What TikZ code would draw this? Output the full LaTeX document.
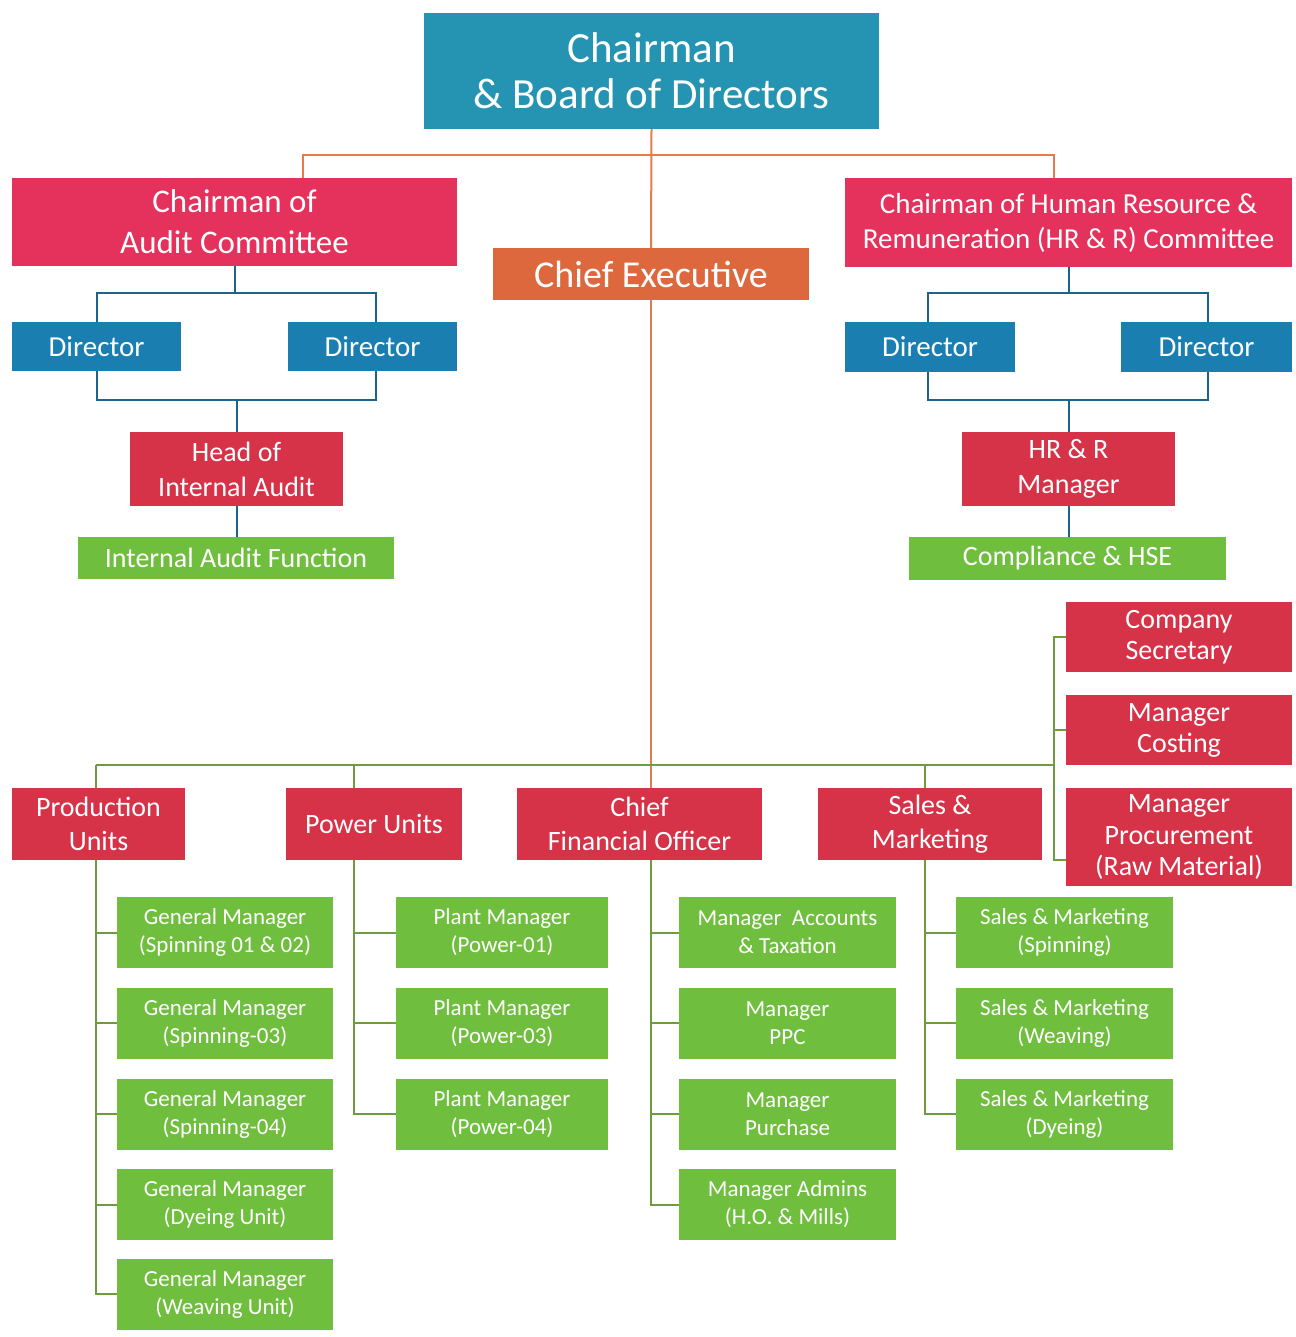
\documentclass[tikz,border=0pt]{standalone}
\usepackage{fontspec}
\setmainfont{Carlito}
\usetikzlibrary{calc}
\definecolor{cteal}{RGB}{36,148,178}
\definecolor{cblue}{RGB}{27,126,176}
\definecolor{cpink}{RGB}{228,50,92}
\definecolor{cred}{RGB}{214,50,72}
\definecolor{corange}{RGB}{222,104,62}
\definecolor{cgreen}{RGB}{112,190,62}
\definecolor{lorange}{RGB}{226,125,75}
\definecolor{lblue}{RGB}{28,100,140}
\definecolor{lgreen}{RGB}{110,155,60}
\begin{document}
\begin{tikzpicture}[x=1pt,y=-1pt,
  b/.style={rectangle, inner sep=0pt, text=white, align=center},
  gbox/.style={b, fill=cgreen, minimum height=71pt, font=\fontsize{23}{28}\selectfont},
  lvtwo/.style={b, fill=cred, minimum height=72pt, font=\fontsize{28}{34}\selectfont},
  dirbox/.style={b, fill=cblue, minimum height=49pt, font=\fontsize{29}{35}\selectfont},
  oline/.style={draw=lorange, line width=2pt},
  bline/.style={draw=lblue, line width=2pt},
  gline/.style={draw=lgreen, line width=2pt}]
\useasboundingbox[fill=white] (0,0) rectangle (1295,1337);

% top level
\node[b, fill=cteal, minimum width=455pt, minimum height=116pt, font=\fontsize{43}{46}\selectfont] (chair) at (651.5,71) {Chairman\\\& Board of Directors};
\node[b, fill=corange, minimum width=316pt, minimum height=52pt, font=\fontsize{38}{44}\selectfont] (ce) at (651,274) {Chief Executive};
\node[b, fill=cpink, minimum width=445pt, minimum height=88pt, font=\fontsize{33}{41}\selectfont] (audit) at (234.5,222) {Chairman of\\Audit Committee};
\node[b, fill=cpink, minimum width=447pt, minimum height=89pt, font=\fontsize{29}{35}\selectfont] (hr) at (1068.5,222.5) {Chairman of Human Resource \&\\Remuneration (HR \& R) Committee};

% directors
\node[dirbox, minimum width=169pt] (ad1) at (96.5,346.5) {Director};
\node[dirbox, minimum width=169pt] (ad2) at (372.5,346.5) {Director};
\node[dirbox, minimum width=170pt, minimum height=50pt] (hd1) at (930,347) {Director};
\node[dirbox, minimum width=171pt, minimum height=50pt] (hd2) at (1206.5,347) {Director};

% heads
\node[b, fill=cred, minimum width=213pt, minimum height=74pt, font=\fontsize{28}{35}\selectfont] (hia) at (236.5,469) {Head of\\Internal Audit};
\node[b, fill=cred, minimum width=213pt, minimum height=74pt, font=\fontsize{28}{35}\selectfont] (hrm) at (1068.5,469) {HR \& R\\Manager};
\node[b, fill=cgreen, minimum width=316pt, minimum height=42pt, font=\fontsize{28}{34}\selectfont] (iaf) at (236,558) {Internal Audit Function};
\node[b, fill=cgreen, minimum width=317pt, minimum height=43pt, font=\fontsize{28}{34}\selectfont] (chse) at (1067.5,558.5) {Compliance \& HSE};

% right stack
\node[b, fill=cred, minimum width=226pt, minimum height=70pt, font=\fontsize{28}{31}\selectfont] (cs) at (1179,637) {Company\\Secretary};
\node[b, fill=cred, minimum width=226pt, minimum height=70pt, font=\fontsize{28}{31}\selectfont] (mc) at (1179,730) {Manager\\Costing};
\node[b, fill=cred, minimum width=226pt, minimum height=98pt, font=\fontsize{28}{31.5}\selectfont] (mp) at (1179,837) {Manager\\Procurement\\(Raw Material)};

% level two
\node[lvtwo, minimum width=173pt] (prod) at (98.5,824) {Production\\Units};
\node[lvtwo, minimum width=176pt] (pow) at (374,824) {Power Units};
\node[lvtwo, minimum width=245pt] (cfo) at (639.5,824) {Chief\\Financial Officer};
\node[lvtwo, minimum width=224pt] (sm) at (930,824) {Sales \&\\Marketing};

% green children
\node[gbox, minimum width=216pt] (p1) at (225,932.5) {General Manager\\(Spinning 01 \& 02)};
\node[gbox, minimum width=216pt] (p2) at (225,1023) {General Manager\\(Spinning-03)};
\node[gbox, minimum width=216pt] (p3) at (225,1114) {General Manager\\(Spinning-04)};
\node[gbox, minimum width=216pt] (p4) at (225,1204.5) {General Manager\\(Dyeing Unit)};
\node[gbox, minimum width=216pt] (p5) at (225,1294) {General Manager\\(Weaving Unit)};

\node[gbox, minimum width=212pt] (w1) at (502,932.5) {Plant Manager\\(Power-01)};
\node[gbox, minimum width=212pt] (w2) at (502,1023) {Plant Manager\\(Power-03)};
\node[gbox, minimum width=212pt] (w3) at (502,1114) {Plant Manager\\(Power-04)};

\node[gbox, minimum width=217pt] (c1) at (787.5,932.5) {Manager~ Accounts\\\& Taxation};
\node[gbox, minimum width=217pt] (c2) at (787.5,1023) {Manager\\PPC};
\node[gbox, minimum width=217pt] (c3) at (787.5,1114) {Manager\\Purchase};
\node[gbox, minimum width=217pt] (c4) at (787.5,1204.5) {Manager Admins\\(H.O. \& Mills)};

\node[gbox, minimum width=217pt] (s1) at (1064.5,932.5) {Sales \& Marketing\\(Spinning)};
\node[gbox, minimum width=217pt] (s2) at (1064.5,1023) {Sales \& Marketing\\(Weaving)};
\node[gbox, minimum width=217pt] (s3) at (1064.5,1114) {Sales \& Marketing\\(Dyeing)};

% orange connectors
\coordinate (obus) at (651.5,155);
\draw[oline] (chair.south) -- (ce.north);
\draw[oline] ([xshift=68.5pt]audit.north) |- (obus) -| ([xshift=-14.5pt]hr.north);
\draw[oline] (ce.south) -- (ce.south |- cfo.north);

% blue connectors (audit)
\coordinate (ab1) at (236,293);
\coordinate (ab2) at (236.5,400);
\draw[bline] (audit.south) -- (audit.south |- ab1);
\draw[bline] (ad1.north) |- (ab1) -| ([xshift=3.5pt]ad2.north);
\draw[bline] (ad1.south) |- (ab2) -| ([xshift=3.5pt]ad2.south);
\draw[bline] (ab2) -- (hia.north);
\draw[bline] (hia.south) -- (iaf.north -| hia.south);

% blue connectors (HR)
\coordinate (hb1) at (1068.5,293);
\coordinate (hb2) at (1068.5,400);
\draw[bline] (hr.south) -- (hb1);
\draw[bline] ([xshift=-2pt]hd1.north) |- (hb1) -| ([xshift=1.5pt]hd2.north);
\draw[bline] ([xshift=-2pt]hd1.south) |- (hb2) -| ([xshift=1.5pt]hd2.south);
\draw[bline] (hb2) -- (hrm.north);
\draw[bline] (hrm.south) -- (chse.north -| hrm.south);

% green main bus
\coordinate (gbL) at (96,765);
\coordinate (gbR) at (1054,765);
\draw[gline] (gbL) -- (gbR);
\draw[gline] (gbL) -- ([xshift=-2.5pt]prod.north);
\draw[gline] ([xshift=-20pt]pow.north) -- +(0,-23);
\draw[gline] ([xshift=-5pt]sm.north) -- +(0,-23);

% right stack
\draw[gline] ([yshift=-23pt]mp.west) -- +(-12,0) |- (cs.west);
\draw[gline] (mc.west) -- +(-12,0);

% children
\draw[gline] ([xshift=-2.5pt]prod.south) |- (p5.west);
\foreach \i in {1,2,3,4} \draw[gline] (p\i.west) -- +(-21,0);
\draw[gline] ([xshift=-20pt]pow.south) |- (w3.west);
\foreach \i in {1,2} \draw[gline] (w\i.west) -- +(-42,0);
\draw[gline] (ce.south |- cfo.south) |- (c4.west);
\foreach \i in {1,2,3} \draw[gline] (c\i.west) -- +(-27.5,0);
\draw[gline] ([xshift=-5pt]sm.south) |- (s3.west);
\foreach \i in {1,2} \draw[gline] (s\i.west) -- +(-31.5,0);
\end{tikzpicture}
\end{document}
